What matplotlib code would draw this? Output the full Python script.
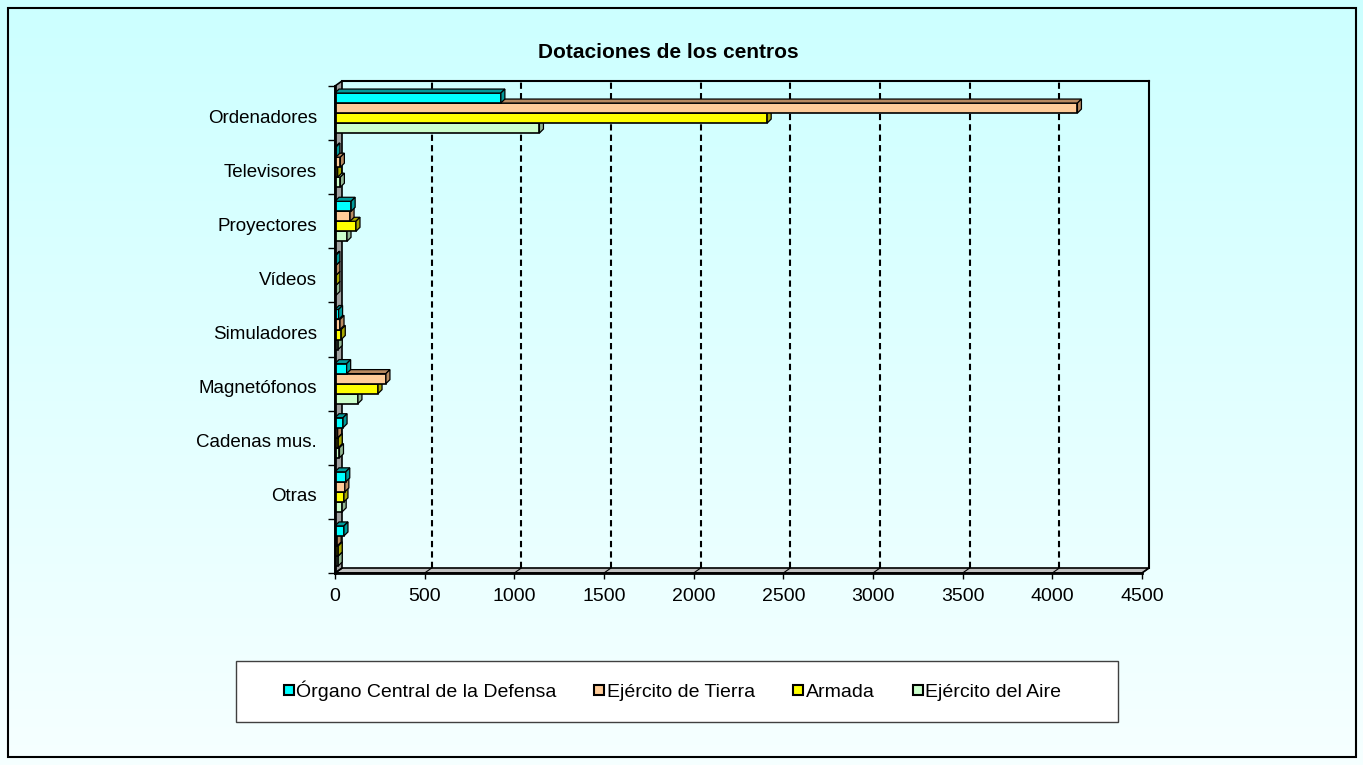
import numpy as np
import matplotlib
matplotlib.use("Agg")
import matplotlib.pyplot as plt
from matplotlib.patches import Polygon, Rectangle
from matplotlib.lines import Line2D
from matplotlib.transforms import ScaledTranslation

# Data:
categories = ["Ordenadores", "Televisores", "Proyectores", "Vídeos", "Simuladores",
              "Magnetófonos", "Cadenas mus.", "Otras", ""]
organo = [925, 5, 90, 5, 20, 65, 45, 60, 50]
tierra = [4140, 30, 84, 5, 28, 284, 15, 55, 12]
armada = [2410, 15, 117, 5, 35, 240, 18, 50, 18]
aire = [1140, 30, 67, 5, 18, 128, 25, 40, 18]
series_names = ["Órgano Central de la Defensa", "Ejército de Tierra", "Armada", "Ejército del Aire"]
x_ticks = [0, 500, 1000, 1500, 2000, 2500, 3000, 3500, 4000, 4500]

face_colors = ["#00FFFF", "#FFCC99", "#FFFF00", "#CCFFCC"]
side_colors = ["#009A9A", "#B88A60", "#A8A800", "#93B893"]

plt.rcParams["font.family"] = ["Liberation Sans", "DejaVu Sans"]

W, H = 1363, 765
fig = plt.figure(figsize=(W / 100, H / 100), dpi=100)

# Background gradient:
bg = fig.add_axes([0, 0, 1, 1], zorder=-10)
grad = np.linspace(0, 1, 256).reshape(-1, 1)
top = np.array([204, 255, 255]) / 255
bot = np.array([246, 255, 255]) / 255
img = top[None, None, :] * (1 - grad[:, :, None]) + bot[None, None, :] * grad[:, :, None]
bg.imshow(img, aspect="auto", extent=[0, 1, 0, 1])
bg.set_axis_off()
fig.patches.append(Rectangle((8 / W, 8 / H), 1348 / W, 749 / H, transform=fig.transFigure,
                             fill=False, ec="black", lw=1.5))

# Main axes (front plane):
ax = fig.add_axes([335 / W, 1 - 573 / H, 807 / W, 487 / H])
ax.patch.set_visible(False)
ax.set_xlim(0, 4500)
ax.set_ylim(len(categories) - 0.5, -0.5)
ytop, ybot = -0.5, len(categories) - 0.5


def px_offset(dx, dy):
    o = ax.transData.transform((0, 0))
    p = ax.transData.inverted().transform((o[0] + dx, o[1] + dy))
    return p[0], p[1]


wdx, wdy = px_offset(7, 5)
bdx, bdy = px_offset(4, 4)

# Walls and floor:
ax.add_patch(Polygon([(0, ybot), (4500, ybot), (4500 + wdx, ybot + wdy), (wdx, ybot + wdy)],
                     fc="#C0C0C0", ec="black", lw=1.2, zorder=2, clip_on=False))
ax.add_patch(Polygon([(0, ybot), (0, ytop), (wdx, ytop + wdy), (wdx, ybot + wdy)],
                     fc="#A0A0A0", ec="black", lw=1.2, zorder=2, clip_on=False))
for xt in x_ticks[1:-1]:
    ax.plot([xt + wdx, xt + wdx], [ybot + wdy, ytop + wdy], color="black", lw=1.5,
            ls=(0, (3, 2)), zorder=1, clip_on=False)
for xt in x_ticks:
    ax.plot([xt, xt + wdx], [ybot, ybot + wdy], color="black", lw=0.8, zorder=3, clip_on=False)
ax.plot([4500 + wdx, 4500 + wdx], [ybot + wdy, ytop + wdy], color="black", lw=1.5, zorder=1, clip_on=False)
ax.plot([wdx, 4500 + wdx], [ytop + wdy, ytop + wdy], color="black", lw=1.5, zorder=1, clip_on=False)

# Bars:
y = np.arange(len(categories))
h = 10 / 54.1
all_series = [organo, tierra, armada, aire]
for s, vals in enumerate(all_series):
    z = 10 - s
    yy = y + (s - 1.5) * h
    ax.barh(yy, vals, height=h, color=face_colors[s], edgecolor="black", linewidth=1.2, zorder=z)
    for yc, v in zip(yy, vals):
        t, b = yc - h / 2, yc + h / 2
        ax.add_patch(Polygon([(0, t), (v, t), (v + bdx, t + bdy), (bdx, t + bdy)],
                             fc=side_colors[s], ec="black", lw=0.9, zorder=z, clip_on=False))
        ax.add_patch(Polygon([(v, t), (v, b), (v + bdx, b + bdy), (v + bdx, t + bdy)],
                             fc=side_colors[s], ec="black", lw=0.9, zorder=z, clip_on=False))

# Axes styling:
for sp in ["top", "right"]:
    ax.spines[sp].set_visible(False)
for sp in ["left", "bottom"]:
    ax.spines[sp].set_linewidth(2)
    ax.spines[sp].set_zorder(20)
ax.set_xticks(x_ticks)
ax.set_xticklabels([str(v) for v in x_ticks], fontsize=14)
ax.tick_params(axis="x", length=4, width=1, pad=7)
ax.set_yticks(y)
ax.set_yticklabels(categories, fontsize=13.5)
ax.tick_params(axis="y", which="major", length=0, pad=13)
ax.set_yticks(np.arange(-0.5, len(categories), 1), minor=True)
ax.tick_params(axis="y", which="minor", length=5, width=1)
shift = ScaledTranslation(0, -3 / 100, fig.dpi_scale_trans)
for lab in ax.get_yticklabels():
    lab.set_transform(lab.get_transform() + shift)

# Title:
fig.text(668 / W, 1 - 53 / H, "Dotaciones de los centros", ha="center", va="center",
         fontsize=15, fontweight="bold")

# Legend:
fig.patches.append(Rectangle((236 / W, 1 - 722 / H), 882 / W, 61 / H, transform=fig.transFigure,
                             fc="white", ec="#404040", lw=1, zorder=5))
handles = [Line2D([], [], marker="s", ls="none", markersize=7, markerfacecolor=c,
                  markeredgecolor="black", markeredgewidth=1.5) for c in face_colors]
leg = fig.legend(handles, series_names, loc="center", bbox_to_anchor=(672 / W, 1 - 691 / H),
                 ncol=4, frameon=False, fontsize=14, handlelength=0.6, handletextpad=0.1,
                 columnspacing=1.9)
leg.set_zorder(6)

fig.savefig("out.png", dpi=100)
